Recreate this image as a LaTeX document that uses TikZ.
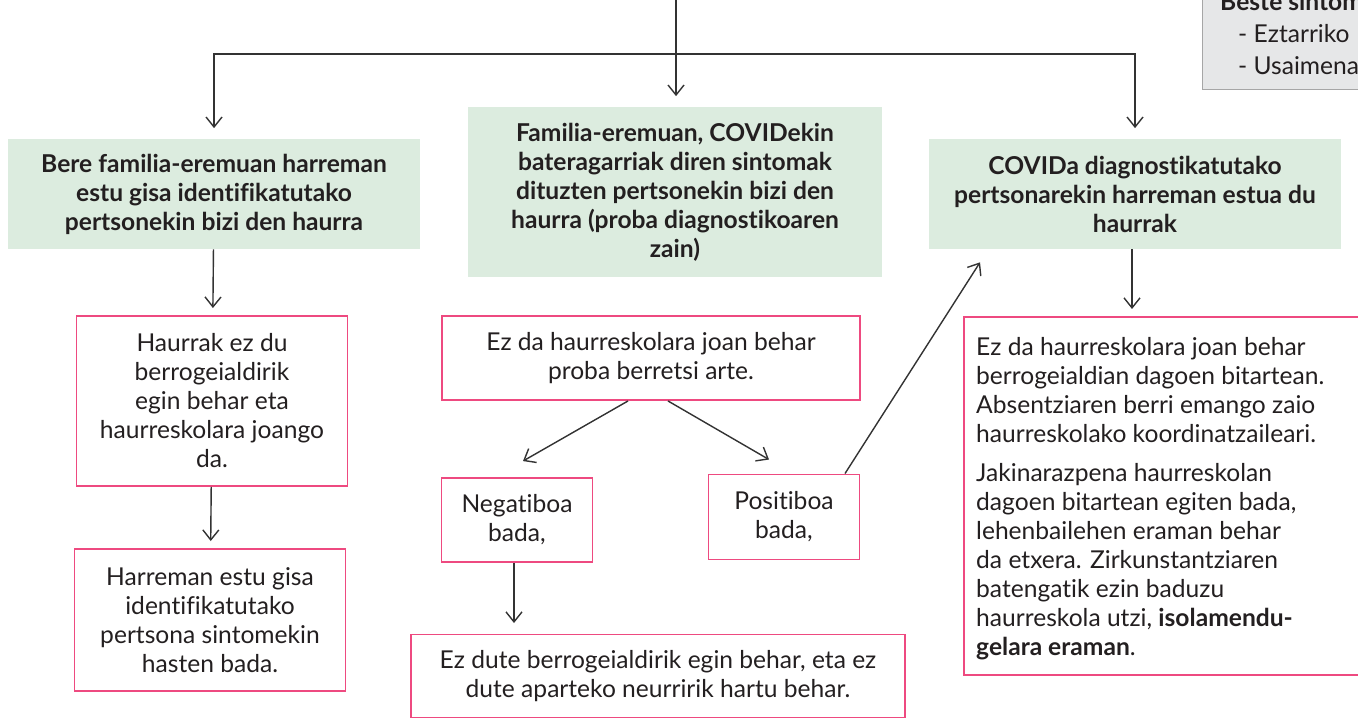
\documentclass[tikz,border=0pt]{standalone}
\usepackage{fontspec}
\setmainfont[Ligatures=CommonOff]{Lato}
\usetikzlibrary{arrows.meta}

\definecolor{boxgreen}{HTML}{DCECDF}
\definecolor{boxpink}{HTML}{EE4A80}
\definecolor{linegray}{HTML}{333333}
\definecolor{notegray}{HTML}{E6E7E8}
\definecolor{inkdark}{HTML}{231F20}

\begin{document}
\begin{tikzpicture}[x=0.02cm,y=-0.02cm,
    every node/.style={font=\fontsize{14}{16.5}\selectfont,text=inkdark},
    case/.style={rectangle,fill=boxgreen,align=center,font=\fontsize{14}{16.5}\selectfont\bfseries},
    todo/.style={rectangle,draw=boxpink,line width=1.1pt,align=center},
    arr/.style={-{Straight Barb[length=2mm,width=3.2mm]},draw=linegray,line width=0.8pt}]
    \useasboundingbox[clip] (0,0) rectangle (1358,724);

    % note box, cut by the page edge
    \node[rectangle,fill=notegray,draw=gray!70,line width=0.8pt,minimum width=4cm,minimum height=2.6cm,
          anchor=south west] (note) at (1202,90) {};
    \node[anchor=base west,font=\fontsize{14}{16.5}\selectfont\bfseries] (beste) at (1214,10) {Beste sintom};
    \node[anchor=base west] (eztar) at (1232,42) {- Eztarriko};
    \node[anchor=base west] (usai) at (1232,74) {- Usaimena};

    \coordinate (top) at (676,0);
    \coordinate (bar) at (676,54);

    \node[case,minimum width=8.24cm,minimum height=2.2cm] (estu) at (214,194)
        {Bere familia-eremuan harreman\\estu gisa identifikatutako\\pertsonekin bizi den haurra};
    \node[case,minimum width=8.28cm,minimum height=3.4cm] (fam) at (675,192)
        {Familia-eremuan, COVIDekin\\bateragarriak diren sintomak\\dituzten pertsonekin bizi den\\haurra (proba diagnostikoaren\\zain)};
    \node[case,minimum width=8.26cm,minimum height=2.2cm] (diag) at (1135,194)
        {COVIDa diagnostikatutako\\pertsonarekin harreman estua du\\haurrak};

    \node[todo,minimum width=5.42cm,minimum height=3.4cm] (joan) at (212,401)
        {Haurrak ez du\\berrogeialdirik\\egin behar eta\\haurreskolara joango\\da.};
    \node[todo,minimum width=5.42cm,minimum height=2.84cm] (sint) at (210,620)
        {Harreman estu gisa\\identifikatutako\\pertsona sintomekin\\hasten bada.};

    \node[todo,minimum width=8.36cm,minimum height=1.68cm] (itxa) at (651,358)
        {Ez da haurreskolara joan behar\\proba berretsi arte.};
    \node[todo,minimum width=3.02cm,minimum height=1.68cm] (neg) at (517,520)
        {Negatiboa\\bada,};
    \node[todo,minimum width=3.02cm,minimum height=1.7cm] (pos) at (784,517)
        {Positiboa\\bada,};
    \node[todo,minimum width=9.88cm,minimum height=1.66cm] (ezber) at (658,676)
        {Ez dute berrogeialdirik egin behar, eta ez\\dute aparteko neurririk hartu behar.};

    \node[todo,minimum width=8.4cm,minimum height=7.16cm,anchor=north west] (etxe) at (963,316) {};
    \node[align=left,anchor=north west] (etxetxt) at (970,331)
        {Ez da haurreskolara joan behar\\berrogeialdian dagoen bitartean.\\Absentziaren berri emango zaio\\haurreskolako koordinatzaileari.\\[6pt]
         Jakinarazpena haurreskolan\\dagoen bitartean egiten bada,\\lehenbailehen eraman behar\\da etxera. Zirkunstantziaren\\batengatik ezin baduzu\\haurreskola utzi, \textbf{isolamendu-}\\\textbf{gelara eraman}.};

    \draw[arr,shorten >=6pt] (top) -- (top |- fam.north);
    \draw[arr,shorten >=6pt] (bar) -| (estu.north);
    \draw[arr,shorten >=6pt] (bar) -| (diag.north);

    \draw[arr,shorten >=4pt] (estu) -- (joan);
    \draw[arr,shorten >=4pt] (joan) -- (sint);
    \draw[arr] ([xshift=-0.46cm]itxa.south) -- ([xshift=0.12cm,yshift=0.32cm]neg.north);
    \draw[arr] ([xshift=0.34cm]itxa.south) -- ([xshift=-0.3cm,yshift=0.28cm]pos.north);
    \draw[arr,shorten >=6pt] (neg.south -| 514,0) -- (ezber.north -| 514,0);
    \draw[arr] ([xshift=1.22cm]pos.north) -- ([xshift=-3.1cm,yshift=-0.26cm]diag.south);
    \draw[arr,shorten >=4pt] (diag.south -| 1132,0) -- (etxe.north -| 1132,0);
\end{tikzpicture}
\end{document}
